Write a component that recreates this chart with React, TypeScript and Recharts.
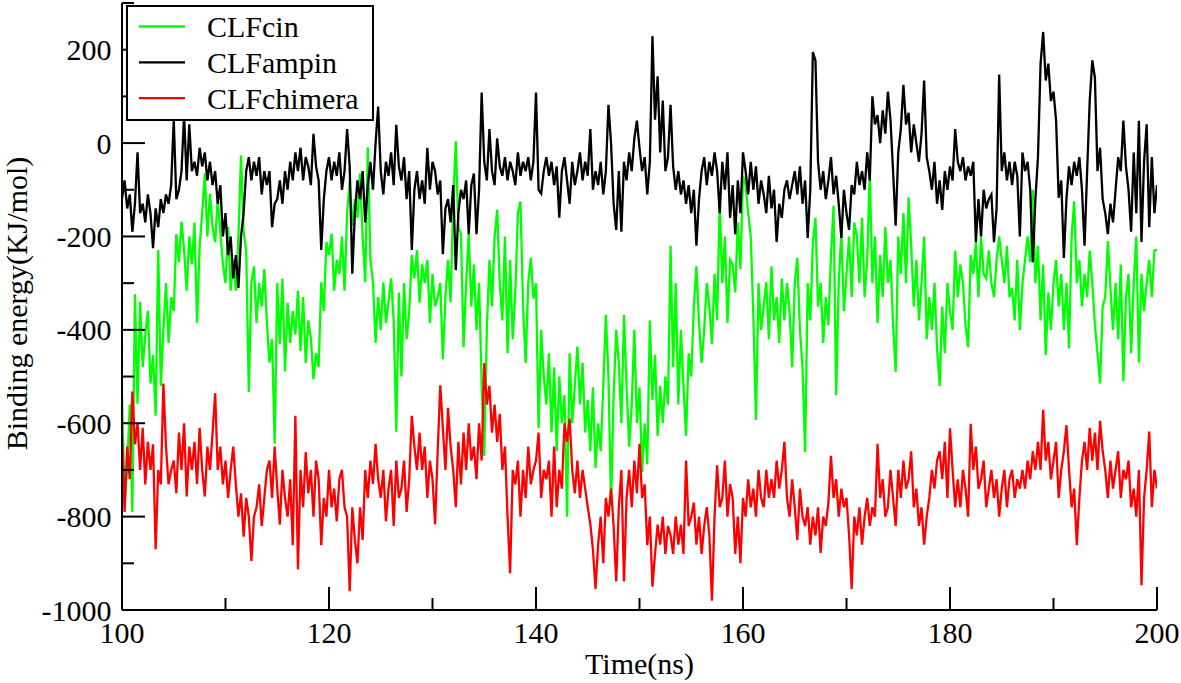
import React from 'react';
import { LineChart, Line, XAxis, YAxis, Legend } from 'recharts';

// Time axis: 100 ns to 200 ns, sampled every 0.25 ns
const TIME_START = 100;
const TIME_STEP = 0.25;

// CLFcin (green) binding energy, KJ/mol — 4 samples per ns
const CLF_CIN: number[] = [
  -540, -770, -700, -560, // 100
  -790, -324, -558, -340, // 101
  -480, -411, -359, -515, // 102
  -454, -584, -229, -520, // 103
  -400, -300, -428, -330, // 104
  -360, -195, -255, -168, // 105
  -230, -316, -200, -260, // 106
  -170, -385, -220, -150, // 107
  -65, -200, -108, -180, // 108
  -212, -120, -190, -260, // 109
  -300, -180, -316, -250, // 110
  -316, -200, -26, -190, // 111
  -230, -533, -300, -264, // 112
  -385, -300, -350, -270, // 113
  -385, -470, -420, -644, // 114
  -300, -430, -290, -489, // 115
  -342, -428, -360, -410, // 116
  -316, -445, -330, -471, // 117
  -380, -419, -506, -450, // 118
  -480, -298, -360, -212, // 119
  -240, -194, -316, -250, // 120
  -280, -200, -316, -150, // 121
  -82, -177, -120, -160, // 122
  -65, -200, -298, -9, // 123
  -250, -298, -428, -330, // 124
  -400, -298, -385, -340, // 125
  -290, -380, -618, -320, // 126
  -500, -300, -420, -360, // 127
  -240, -290, -229, -342, // 128
  -260, -300, -250, -385, // 129
  -280, -350, -330, -300, // 130
  -463, -330, -250, -341, // 131
  -125, 4, -180, -194, // 132
  -437, -300, -194, -350, // 133
  -260, -400, -300, -515, // 134
  -670, -400, -250, -350, // 135
  -200, -143, -300, -380, // 136
  -200, -450, -250, -420, // 137
  -320, -150, -125, -350, // 138
  -471, -300, -246, -333, // 139
  -300, -610, -400, -500, // 140
  -560, -450, -620, -480, // 141
  -660, -500, -600, -540, // 142
  -800, -450, -600, -520, // 143
  -436, -560, -470, -620, // 144
  -550, -660, -523, -696, // 145
  -600, -660, -520, -368, // 146
  -500, -774, -540, -400, // 147
  -470, -600, -368, -520, // 148
  -650, -560, -400, -600, // 149
  -523, -705, -600, -688, // 150
  -380, -550, -454, -627, // 151
  -520, -600, -500, -560, // 152
  -220, -480, -300, -560, // 153
  -400, -520, -627, -450, // 154
  -500, -350, -264, -385, // 155
  -471, -400, -300, -350, // 156
  -430, -280, -380, -125, // 157
  -300, -200, -385, -250, // 158
  -260, -320, -170, -270, // 159
  -70, -90, -150, -200, // 160
  -370, -593, -300, -400, // 161
  -350, -298, -420, -264, // 162
  -380, -330, -428, -290, // 163
  -380, -300, -360, -480, // 164
  -300, -246, -400, -480, // 165
  -662, -300, -380, -212, // 166
  -160, -350, -300, -428, // 167
  -330, -390, -240, -134, // 168
  -540, -300, -190, -360, // 169
  -280, -200, -330, -170, // 170
  -200, -300, -160, -330, // 171
  -250, -65, -300, -200, // 172
  -385, -240, -330, -180, // 173
  -300, -250, -390, -490, // 174
  -200, -280, -150, -300, // 175
  -116, -220, -350, -250, // 176
  -380, -300, -200, -420, // 177
  -330, -400, -300, -440, // 178
  -520, -350, -450, -300, // 179
  -360, -400, -230, -330, // 180
  -260, -300, -390, -437, // 181
  -240, -280, -212, -330, // 182
  -200, -280, -290, -230, // 183
  -300, -330, -250, -200, // 184
  -250, -300, -220, -330, // 185
  -310, -380, -250, -400, // 186
  -300, -250, -200, -255, // 187
  -100, -300, -220, -380, // 188
  -260, -454, -320, -400, // 189
  -300, -250, -350, -280, // 190
  -400, -300, -440, -200, // 191
  -125, -300, -250, -350, // 192
  -280, -330, -230, -300, // 193
  -390, -450, -515, -350, // 194
  -330, -210, -310, -400, // 195
  -300, -420, -260, -510, // 196
  -330, -280, -450, -300, // 197
  -200, -470, -280, -360, // 198
  -300, -250, -330, -230, // 199
  -229, // 200
];

// CLFampin (black)
const CLF_AMPIN: number[] = [
  -120, -80, -140, -110, // 100
  -190, -130, -20, -150, // 101
  -130, -170, -110, -150, // 102
  -225, -140, -180, -120, // 103
  -150, -110, -130, -90, // 104
  50, -120, -100, -60, // 105
  60, -80, 40, -60, // 106
  -40, -70, -10, -50, // 107
  -20, -80, -40, -90, // 108
  -60, -130, -90, -200, // 109
  -150, -240, -200, -290, // 110
  -240, -310, -200, -150, // 111
  -60, -30, -80, -40, // 112
  -70, -30, -110, -60, // 113
  -90, -60, -180, -130, // 114
  -120, -80, -130, -60, // 115
  -100, -40, -80, -20, // 116
  -60, -10, -80, -30, // 117
  -50, -90, 20, -50, // 118
  -80, -229, -120, -60, // 119
  -30, -80, -40, -70, // 120
  -20, -100, -60, 30, // 121
  -50, -280, -150, -80, // 122
  -120, -60, -170, -90, // 123
  -40, -100, 0, 78, // 124
  -60, -110, -40, -70, // 125
  -20, -90, 39, -50, // 126
  -80, -30, -120, -60, // 127
  -229, -100, -60, -120, // 128
  -80, -130, -10, -100, // 129
  -40, -60, -110, -80, // 130
  -238, -140, -120, -170, // 131
  -90, -272, -150, -100, // 132
  -120, -80, -195, -90, // 133
  -65, -195, -100, 108, // 134
  -40, -80, 30, -60, // 135
  -90, 10, -50, -70, // 136
  -30, -80, -40, -60, // 137
  -90, -20, -70, -40, // 138
  -60, -30, -80, -40, // 139
  108, -100, -108, -60, // 140
  -30, -70, -40, -90, // 141
  -50, -160, -60, -30, // 142
  -80, -130, -40, -90, // 143
  -60, -20, -80, -40, // 144
  -70, 30, -100, -60, // 145
  -90, -40, -110, -60, // 146
  82, 0, -130, -186, // 147
  -60, -190, -40, -80, // 148
  -20, -60, 10, 48, // 149
  -10, -60, -30, -110, // 150
  -40, 229, 50, 143, // 151
  -20, 91, -60, -30, // 152
  82, -50, -100, -60, // 153
  -110, -80, -130, -90, // 154
  -150, -100, -220, -120, // 155
  -60, -30, -90, -40, // 156
  -70, -20, -60, -150, // 157
  -40, -100, -20, -160, // 158
  -90, -195, -80, -150, // 159
  -20, -60, -110, -40, // 160
  -100, -50, -130, -80, // 161
  -110, -150, -70, -140, // 162
  -100, -212, -130, -160, // 163
  -100, -80, -120, -90, // 164
  -60, -110, -50, -130, // 165
  -80, -203, -100, 195, // 166
  177, -40, -100, -60, // 167
  -120, -80, -30, -110, // 168
  -70, -130, -203, -100, // 169
  -150, -186, -90, -110, // 170
  -40, -90, -60, -100, // 171
  -20, -80, 100, 40, // 172
  60, 0, 70, 20, // 173
  110, 50, -60, -177, // 174
  -20, 30, 125, 40, // 175
  65, -20, 40, 0, // 176
  -40, 20, 134, -30, // 177
  -60, -100, -40, -130, // 178
  -80, -143, -60, -100, // 179
  -50, -80, 30, -40, // 180
  -60, -30, -80, -50, // 181
  -70, -40, -212, -120, // 182
  -200, -100, -140, -120, // 183
  -110, -212, -140, 147, // 184
  -60, -20, -80, -40, // 185
  -90, -40, -70, -200, // 186
  -20, -60, -40, -100, // 187
  -255, -120, -30, 169, // 188
  238, 134, 170, 90, // 189
  110, 48, -117, -80, // 190
  -246, -120, -50, -90, // 191
  -40, -70, -30, -100, // 192
  -220, -60, 91, 177, // 193
  140, -60, -10, -120, // 194
  -150, -195, -130, -170, // 195
  -100, -30, -60, 48, // 196
  -50, -100, -190, -20, // 197
  -150, 48, -212, -40, // 198
  40, -180, -30, -150, // 199
  -90, // 200
];

// CLFchimera (red)
const CLF_CHIMERA: number[] = [
  -620, -790, -650, -720, // 100
  -532, -645, -600, -700, // 101
  -610, -731, -640, -700, // 102
  -645, -870, -700, -731, // 103
  -515, -650, -731, -700, // 104
  -680, -750, -620, -700, // 105
  -600, -757, -650, -700, // 106
  -640, -730, -610, -700, // 107
  -757, -650, -700, -620, // 108
  -536, -700, -650, -731, // 109
  -680, -760, -700, -650, // 110
  -731, -800, -750, -843, // 111
  -760, -800, -895, -800, // 112
  -780, -731, -820, -760, // 113
  -700, -680, -760, -650, // 114
  -740, -817, -700, -760, // 115
  -800, -720, -861, -584, // 116
  -913, -700, -780, -662, // 117
  -750, -700, -800, -680, // 118
  -720, -861, -760, -800, // 119
  -700, -780, -740, -810, // 120
  -720, -700, -780, -800, // 121
  -960, -780, -850, -900, // 122
  -780, -850, -700, -760, // 123
  -680, -730, -644, -720, // 124
  -760, -700, -810, -740, // 125
  -700, -820, -680, -760, // 126
  -740, -680, -790, -720, // 127
  -584, -650, -700, -620, // 128
  -700, -650, -760, -680, // 129
  -720, -817, -660, -519, // 130
  -610, -700, -567, -650, // 131
  -700, -780, -640, -731, // 132
  -620, -700, -600, -680, // 133
  -650, -720, -600, -680, // 134
  -471, -560, -520, -620, // 135
  -560, -640, -580, -700, // 136
  -650, -800, -921, -700, // 137
  -731, -680, -800, -700, // 138
  -760, -650, -731, -700, // 139
  -680, -620, -760, -700, // 140
  -720, -680, -800, -650, // 141
  -780, -700, -740, -600, // 142
  -640, -590, -700, -750, // 143
  -680, -760, -700, -740, // 144
  -780, -816, -870, -955, // 145
  -860, -800, -900, -760, // 146
  -800, -740, -820, -939, // 147
  -780, -700, -939, -760, // 148
  -700, -780, -680, -750, // 149
  -644, -760, -731, -861, // 150
  -800, -950, -880, -817, // 151
  -860, -800, -880, -820, // 152
  -840, -880, -800, -860, // 153
  -817, -880, -680, -820, // 154
  -800, -770, -860, -800, // 155
  -880, -820, -780, -840, // 156
  -980, -800, -690, -780, // 157
  -760, -680, -800, -730, // 158
  -760, -880, -800, -900, // 159
  -760, -800, -720, -780, // 160
  -740, -800, -700, -760, // 161
  -780, -700, -760, -720, // 162
  -760, -680, -740, -700, // 163
  -640, -760, -800, -720, // 164
  -780, -850, -740, -800, // 165
  -820, -780, -860, -800, // 166
  -840, -780, -878, -800, // 167
  -820, -770, -670, -760, // 168
  -720, -800, -740, -780, // 169
  -760, -840, -955, -800, // 170
  -840, -780, -860, -800, // 171
  -760, -820, -780, -800, // 172
  -644, -760, -720, -800, // 173
  -780, -700, -760, -820, // 174
  -700, -760, -680, -740, // 175
  -720, -660, -780, -740, // 176
  -820, -780, -860, -800, // 177
  -760, -700, -740, -680, // 178
  -660, -720, -640, -760, // 179
  -611, -700, -780, -720, // 180
  -780, -700, -740, -800, // 181
  -601, -700, -650, -740, // 182
  -720, -680, -780, -740, // 183
  -700, -760, -720, -800, // 184
  -740, -700, -780, -720, // 185
  -700, -760, -720, -740, // 186
  -700, -740, -680, -720, // 187
  -660, -700, -640, -700, // 188
  -571, -680, -640, -720, // 189
  -680, -640, -760, -700, // 190
  -660, -604, -700, -780, // 191
  -740, -861, -760, -680, // 192
  -640, -700, -610, -680, // 193
  -620, -700, -595, -660, // 194
  -700, -760, -680, -740, // 195
  -700, -660, -760, -700, // 196
  -720, -680, -780, -740, // 197
  -800, -700, -947, -760, // 198
  -700, -618, -780, -700, // 199
  -740, // 200
];

const SERIES_KEYS = ['cin', 'ampin', 'chimera'];
const SERIES_NAMES = ['CLFcin', 'CLFampin', 'CLFchimera'];
const SERIES_COLORS = ['#00ff00', '#000000', '#ff0000'];

const X_TICKS = [100, 110, 120, 130, 140, 150, 160, 170, 180, 190, 200];
const Y_TICKS = [-1000, -900, -800, -700, -600, -500, -400, -300, -200, -100, 0, 100, 200, 300];

const FONT = '"Liberation Serif", "Times New Roman", serif';
const MAJOR = 23;
const MINOR = 12;

const data = CLF_CIN.map((v, i) => ({
  t: TIME_START + i * TIME_STEP,
  cin: v,
  ampin: CLF_AMPIN[i],
  chimera: CLF_CHIMERA[i],
}));

const isMajorX = (v: number) => v % 20 === 0;
const isMajorY = (v: number) => Math.abs(v % 200) === 0;

const BottomTick = (p: any) => {
  const { x, y, payload } = p;
  const v = payload.value;
  const major = isMajorX(v);
  return (
    <g>
      <line x1={x} x2={x} y1={y} y2={y - (major ? MAJOR : MINOR)} stroke="#000" strokeWidth={2} />
      {major && (
        <text x={x} y={y + 33} textAnchor="middle" fontSize={30} fontFamily={FONT} fill="#000">
          {v}
        </text>
      )}
    </g>
  );
};

const TopTick = (p: any) => {
  const { x, y, payload } = p;
  const major = isMajorX(payload.value);
  return <line x1={x} x2={x} y1={y} y2={y + (major ? MAJOR : MINOR)} stroke="#000" strokeWidth={2} />;
};

const LeftTick = (p: any) => {
  const { x, y, payload } = p;
  const v = payload.value;
  const major = isMajorY(v);
  return (
    <g>
      <line x1={x} x2={x + (major ? MAJOR : MINOR)} y1={y} y2={y} stroke="#000" strokeWidth={2} />
      {major && (
        <text x={x - 10.5} y={y + 10.5} textAnchor="end" fontSize={30} fontFamily={FONT} fill="#000">
          {v}
        </text>
      )}
    </g>
  );
};

const RightTick = (p: any) => {
  const { x, y, payload } = p;
  const major = isMajorY(payload.value);
  return <line x1={x} x2={x - (major ? MAJOR : MINOR)} y1={y} y2={y} stroke="#000" strokeWidth={2} />;
};

const YLabel = (p: any) => {
  const vb = p.viewBox;
  const cx = vb.x + 27;
  const cy = vb.y + vb.height / 2 - 3;
  return (
    <text
      x={cx}
      y={cy}
      transform={`rotate(-90 ${cx} ${cy})`}
      textAnchor="middle"
      fontSize={30}
      fontFamily={FONT}
      fill="#000"
    >
      Binding energy(KJ/mol)
    </text>
  );
};

const XLabel = (p: any) => {
  const vb = p.viewBox;
  return (
    <text x={vb.x + vb.width / 2} y={vb.y + 64} textAnchor="middle" fontSize={30} fontFamily={FONT} fill="#000">
      Time(ns)
    </text>
  );
};

const LegendBox = () => (
  <svg width={249} height={117} style={{ display: 'block' }}>
    <rect x={1} y={1} width={246} height={114} fill="#fff" stroke="#000" strokeWidth={2} />
    {SERIES_NAMES.map((name, i) => {
      const ly = 21.5 + i * 35.8;
      return (
        <g key={name}>
          <line x1={13} x2={59} y1={ly} y2={ly} stroke={SERIES_COLORS[i]} strokeWidth={2.3} />
          <text x={81} y={ly + 10.5} fontSize={30} fontFamily={FONT} fill="#000">
            {name}
          </text>
        </g>
      );
    })}
  </svg>
);

export default function App() {
  return (
    <div style={{ position: 'absolute', left: 0, top: 0, width: 1181, height: 683, background: '#fff' }}>
      <LineChart width={1181} height={683} data={data} margin={{ top: 3, right: 24, bottom: 0, left: 0 }}>
        <XAxis
          dataKey="t"
          type="number"
          domain={[100, 200]}
          ticks={X_TICKS}
          interval={0}
          height={73}
          tickSize={0}
          tickMargin={0}
          tickLine={false}
          tick={<BottomTick />}
          axisLine={{ stroke: '#000', strokeWidth: 2 }}
          allowDataOverflow
          label={XLabel}
        />
        <XAxis
          xAxisId="top"
          orientation="top"
          dataKey="t"
          type="number"
          domain={[100, 200]}
          ticks={X_TICKS}
          interval={0}
          height={0}
          tickSize={0}
          tickMargin={0}
          tickLine={false}
          tick={<TopTick />}
          axisLine={{ stroke: '#000', strokeWidth: 2 }}
          allowDataOverflow
        />
        <YAxis
          type="number"
          domain={[-1000, 300]}
          ticks={Y_TICKS}
          interval={0}
          width={122}
          tickSize={0}
          tickMargin={0}
          tickLine={false}
          tick={<LeftTick />}
          axisLine={{ stroke: '#000', strokeWidth: 2 }}
          allowDataOverflow
          label={YLabel}
        />
        <YAxis
          yAxisId="right"
          orientation="right"
          type="number"
          domain={[-1000, 300]}
          ticks={Y_TICKS}
          interval={0}
          width={0}
          tickSize={0}
          tickMargin={0}
          tickLine={false}
          tick={<RightTick />}
          axisLine={{ stroke: '#000', strokeWidth: 2 }}
          allowDataOverflow
        />
        <Legend
          layout="vertical"
          align="center"
          verticalAlign="middle"
          content={<LegendBox />}
          wrapperStyle={{ left: 126, top: 5, width: 249, height: 117 }}
        />
        {SERIES_KEYS.map((k, i) => (
          <Line
            key={k}
            dataKey={k}
            name={SERIES_NAMES[i]}
            stroke={SERIES_COLORS[i]}
            strokeWidth={2.3}
            dot={false}
            isAnimationActive={false}
          />
        ))}
      </LineChart>
    </div>
  );
}
